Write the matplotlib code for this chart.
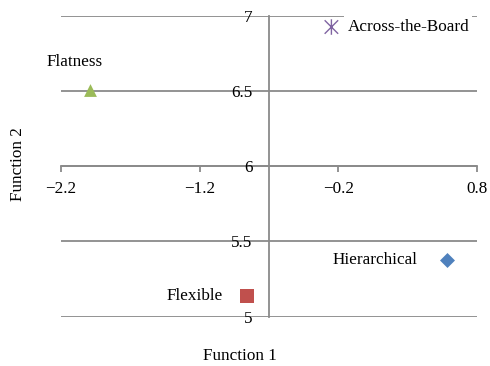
import matplotlib
matplotlib.use("Agg")
import matplotlib.pyplot as plt
from matplotlib.path import Path

# discriminant function centroids
groups = ["Hierarchical", "Flexible", "Flatness", "Across-the-Board"]
function1 = [0.58, -0.86, -1.99, -0.25]
function2 = [5.376, 5.14, 6.505, 6.925]

x_ticks = [-2.2, -1.2, -0.2, 0.8]
y_ticks = [5, 5.5, 6, 6.5, 7]

# Excel style star: an X with a vertical bar through it
star = Path([(-1, -1), (1, 1), (-1, 1), (1, -1), (0, -1.15), (0, 1.15)],
            [Path.MOVETO, Path.LINETO, Path.MOVETO, Path.LINETO, Path.MOVETO, Path.LINETO])

colors = ["#4F81BD", "#C0504D", "#9BBB59", "#8064A2"]
markers = ["D", "s", "^", star]
sizes = [58, 105, 85, 125]
# label offsets in points and alignment
label_pos = [(-21, 0, "right", "center"), (-17, 0, "right", "center"),
             (-11.5, 20, "center", "center"), (11.5, 0, "left", "center")]

plt.rcParams["font.family"] = ["Liberation Serif", "DejaVu Serif"]
fs = 12.3
plt.rcParams["font.size"] = fs

fig = plt.figure(figsize=(4.9, 3.66), dpi=100)
ax = fig.add_axes([0.1245, 0.135, 0.849, 0.822])

grid_c = "#8a8a8a"
for y in y_ticks:
    ax.axhline(y, color=grid_c, lw=1.3, zorder=0)

for i in range(len(groups)):
    if markers[i] is star:
        ax.scatter(function1[i], function2[i], marker=markers[i], s=sizes[i],
                   facecolor="none", edgecolor=colors[i], linewidths=1.0, zorder=3)
    else:
        ax.scatter(function1[i], function2[i], marker=markers[i], s=sizes[i],
                   color=colors[i], linewidths=0, zorder=3)
    dx, dy, ha, va = label_pos[i]
    ax.annotate(groups[i], (function1[i], function2[i]), xytext=(dx, dy),
                textcoords="offset points", ha=ha, va=va, fontsize=fs,
                bbox=dict(facecolor="white", edgecolor="none", pad=2.5), zorder=2)

ax.set_xlim(-2.2, 0.8)
ax.set_ylim(5, 7)
ax.set_xticks(x_ticks)
ax.set_yticks(y_ticks)
ax.set_xticklabels(["\u22122.2", "\u22121.2", "\u22120.2", "0.8"])
ax.set_yticklabels(["5", "5.5", "6", "6.5", "7"])

ax.spines["left"].set_position(("data", -0.7))
ax.spines["bottom"].set_position(("data", 6))
ax.spines["top"].set_visible(False)
ax.spines["right"].set_visible(False)
for s in ["left", "bottom"]:
    ax.spines[s].set_color(grid_c)
    ax.spines[s].set_linewidth(1.3)
    ax.spines[s].set_zorder(1)

ax.tick_params(axis="x", direction="out", length=4, color=grid_c, width=1.3, pad=7)
ax.tick_params(axis="y", length=0, pad=12)
ax.set_facecolor("white")

fig.text(0.49, 0.027, "Function 1", ha="center", va="center", fontsize=fs)
fig.text(0.036, 0.552, "Function 2", ha="center", va="center", rotation=90, fontsize=fs)

fig.savefig("out.png", dpi=100)
